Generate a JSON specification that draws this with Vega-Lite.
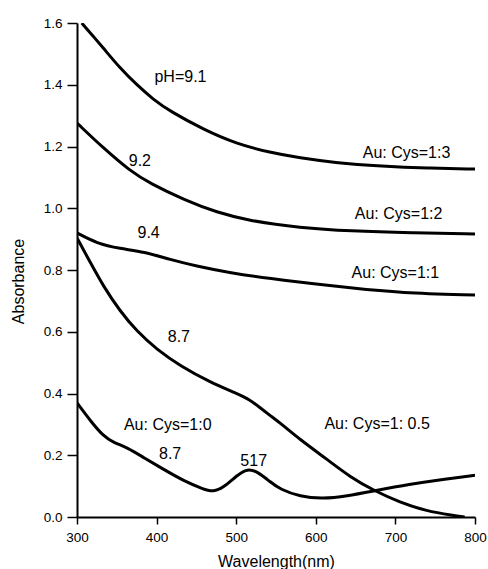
{
  "$schema": "https://vega.github.io/schema/vega-lite/v6.json",
  "width": 398,
  "height": 494,
  "autosize": {"type": "none"},
  "padding": {"left": 77, "top": 23, "right": 13, "bottom": 52},
  "background": "white",
  "config": {
    "view": {"stroke": null},
    "font": "Liberation Sans",
    "axis": {"domainColor": "black", "tickColor": "black", "labelColor": "black", "titleColor": "black", "grid": false, "domainWidth": 2, "tickWidth": 1.5, "labelFont": "Liberation Sans", "titleFont": "Liberation Sans", "titleFontWeight": "normal"}
  },
  "datasets": {
    "curves": [
      {"series": "1:3", "wl": 306, "a": 1.6},
      {"series": "1:3", "wl": 320, "a": 1.558},
      {"series": "1:3", "wl": 333, "a": 1.519},
      {"series": "1:3", "wl": 354, "a": 1.454},
      {"series": "1:3", "wl": 375, "a": 1.4},
      {"series": "1:3", "wl": 396, "a": 1.352},
      {"series": "1:3", "wl": 417, "a": 1.314},
      {"series": "1:3", "wl": 459, "a": 1.255},
      {"series": "1:3", "wl": 500, "a": 1.209},
      {"series": "1:3", "wl": 543, "a": 1.18},
      {"series": "1:3", "wl": 580, "a": 1.163},
      {"series": "1:3", "wl": 622, "a": 1.148},
      {"series": "1:3", "wl": 684, "a": 1.136},
      {"series": "1:3", "wl": 740, "a": 1.13},
      {"series": "1:3", "wl": 800, "a": 1.127},
      {"series": "1:2", "wl": 300, "a": 1.276},
      {"series": "1:2", "wl": 333, "a": 1.195},
      {"series": "1:2", "wl": 367, "a": 1.12},
      {"series": "1:2", "wl": 392, "a": 1.08},
      {"series": "1:2", "wl": 434, "a": 1.028},
      {"series": "1:2", "wl": 476, "a": 0.986},
      {"series": "1:2", "wl": 517, "a": 0.959},
      {"series": "1:2", "wl": 580, "a": 0.937},
      {"series": "1:2", "wl": 643, "a": 0.926},
      {"series": "1:2", "wl": 720, "a": 0.92},
      {"series": "1:2", "wl": 800, "a": 0.917},
      {"series": "1:1", "wl": 300, "a": 0.92},
      {"series": "1:1", "wl": 325, "a": 0.886},
      {"series": "1:1", "wl": 354, "a": 0.869},
      {"series": "1:1", "wl": 384, "a": 0.859},
      {"series": "1:1", "wl": 417, "a": 0.834},
      {"series": "1:1", "wl": 451, "a": 0.812},
      {"series": "1:1", "wl": 492, "a": 0.791},
      {"series": "1:1", "wl": 543, "a": 0.772},
      {"series": "1:1", "wl": 600, "a": 0.755},
      {"series": "1:1", "wl": 643, "a": 0.742},
      {"series": "1:1", "wl": 706, "a": 0.726},
      {"series": "1:1", "wl": 800, "a": 0.719},
      {"series": "1:0.5", "wl": 300, "a": 0.904},
      {"series": "1:0.5", "wl": 317, "a": 0.823},
      {"series": "1:0.5", "wl": 333, "a": 0.748},
      {"series": "1:0.5", "wl": 354, "a": 0.667},
      {"series": "1:0.5", "wl": 375, "a": 0.602},
      {"series": "1:0.5", "wl": 400, "a": 0.543},
      {"series": "1:0.5", "wl": 430, "a": 0.489},
      {"series": "1:0.5", "wl": 467, "a": 0.437},
      {"series": "1:0.5", "wl": 501, "a": 0.4},
      {"series": "1:0.5", "wl": 517, "a": 0.38},
      {"series": "1:0.5", "wl": 530, "a": 0.354},
      {"series": "1:0.5", "wl": 543, "a": 0.328},
      {"series": "1:0.5", "wl": 555, "a": 0.305},
      {"series": "1:0.5", "wl": 580, "a": 0.251},
      {"series": "1:0.5", "wl": 614, "a": 0.187},
      {"series": "1:0.5", "wl": 643, "a": 0.13},
      {"series": "1:0.5", "wl": 672, "a": 0.087},
      {"series": "1:0.5", "wl": 706, "a": 0.047},
      {"series": "1:0.5", "wl": 739, "a": 0.019},
      {"series": "1:0.5", "wl": 773, "a": 0.005},
      {"series": "1:0.5", "wl": 787, "a": 0.0},
      {"series": "1:0", "wl": 300, "a": 0.37},
      {"series": "1:0", "wl": 317, "a": 0.311},
      {"series": "1:0", "wl": 333, "a": 0.262},
      {"series": "1:0", "wl": 346, "a": 0.241},
      {"series": "1:0", "wl": 363, "a": 0.225},
      {"series": "1:0", "wl": 384, "a": 0.192},
      {"series": "1:0", "wl": 409, "a": 0.154},
      {"series": "1:0", "wl": 434, "a": 0.117},
      {"series": "1:0", "wl": 459, "a": 0.09},
      {"series": "1:0", "wl": 471, "a": 0.081},
      {"series": "1:0", "wl": 484, "a": 0.095},
      {"series": "1:0", "wl": 501, "a": 0.135},
      {"series": "1:0", "wl": 514, "a": 0.157},
      {"series": "1:0", "wl": 527, "a": 0.147},
      {"series": "1:0", "wl": 543, "a": 0.113},
      {"series": "1:0", "wl": 555, "a": 0.09},
      {"series": "1:0", "wl": 580, "a": 0.066},
      {"series": "1:0", "wl": 609, "a": 0.059},
      {"series": "1:0", "wl": 639, "a": 0.068},
      {"series": "1:0", "wl": 672, "a": 0.084},
      {"series": "1:0", "wl": 718, "a": 0.106},
      {"series": "1:0", "wl": 760, "a": 0.122},
      {"series": "1:0", "wl": 800, "a": 0.135}
    ],
    "labels": [
      {"label": "pH=9.1", "wl": 430, "a": 1.426},
      {"label": "9.2", "wl": 379, "a": 1.152},
      {"label": "9.4", "wl": 390, "a": 0.92},
      {"label": "Au: Cys=1:3", "wl": 714, "a": 1.179},
      {"label": "Au: Cys=1:2", "wl": 704, "a": 0.98},
      {"label": "Au: Cys=1:1", "wl": 700, "a": 0.791},
      {"label": "8.7", "wl": 428, "a": 0.584},
      {"label": "Au: Cys=1:0", "wl": 414, "a": 0.298},
      {"label": "8.7", "wl": 417, "a": 0.203},
      {"label": "517", "wl": 522, "a": 0.181},
      {"label": "Au: Cys=1: 0.5", "wl": 677, "a": 0.302}
    ]
  },
  "layer": [
    {
      "data": {"name": "curves"},
      "mark": {"type": "line", "interpolate": "basis", "color": "black", "strokeWidth": 3, "clip": true},
      "encoding": {
        "x": {
          "field": "wl", "type": "quantitative",
          "scale": {"domain": [300, 800], "nice": false, "zero": false},
          "axis": {
            "title": "Wavelength(nm)", "titleFontSize": 16, "titlePadding": 10,
            "values": [300, 350, 400, 450, 500, 550, 600, 650, 700, 750, 800],
            "labelExpr": "datum.value % 100 == 0 ? datum.label : ''",
            "tickSize": {"condition": {"test": "datum.value % 100 == 0", "value": 7}, "value": 5},
            "labelPadding": 6, "labelFontSize": 13.5, "labelFlush": false
          }
        },
        "y": {
          "field": "a", "type": "quantitative",
          "scale": {"domain": [0, 1.6], "nice": false},
          "axis": {
            "title": "Absorbance", "titleFontSize": 16, "titleX": -59, "titleY": 258, "titleBaseline": "middle",
            "values": [0, 0.1, 0.2, 0.3, 0.4, 0.5, 0.6, 0.7, 0.8, 0.9, 1.0, 1.1, 1.2, 1.3, 1.4, 1.5, 1.6],
            "format": ".1f",
            "labelExpr": "round(datum.value * 10) % 2 == 0 ? datum.label : ''",
            "tickSize": {"condition": {"test": "round(datum.value * 10) % 2 == 0", "value": 10}, "value": 6},
            "labelPadding": 5, "labelFontSize": 13.5, "labelFlush": false
          }
        },
        "detail": {"field": "series"},
        "order": {"field": "wl", "type": "quantitative"}
      }
    },
    {
      "data": {"name": "labels"},
      "mark": {"type": "text", "font": "Liberation Sans", "fontSize": 16, "color": "black", "align": "center", "baseline": "middle"},
      "encoding": {
        "x": {"field": "wl", "type": "quantitative"},
        "y": {"field": "a", "type": "quantitative"},
        "text": {"field": "label"}
      }
    }
  ]
}
